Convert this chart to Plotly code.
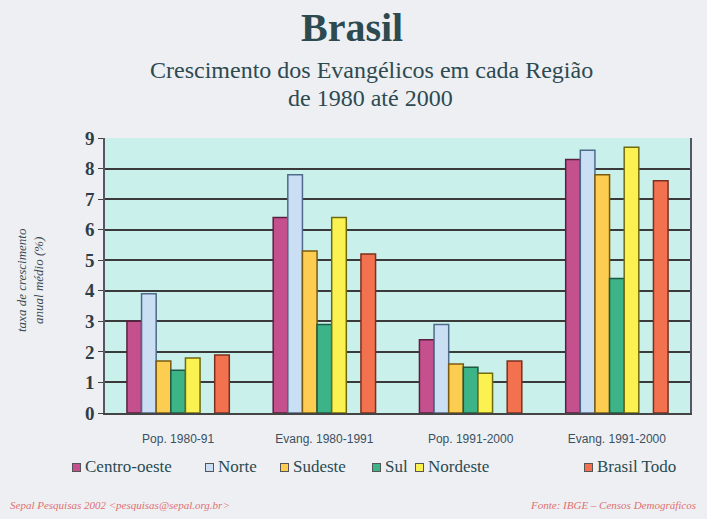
import plotly.graph_objects as go

categories = ["Pop. 1980-91", "Evang. 1980-1991", "Pop. 1991-2000", "Evang. 1991-2000"]
series_names = ["Centro-oeste", "Norte", "Sudeste", "Sul", "Nordeste", "Brasil Todo"]
centro_oeste = [3.0, 6.4, 2.4, 8.3]
norte = [3.9, 7.8, 2.9, 8.6]
sudeste = [1.7, 5.3, 1.6, 7.8]
sul = [1.4, 2.9, 1.5, 4.4]
nordeste = [1.8, 6.4, 1.3, 8.7]
brasil_todo = [1.9, 5.2, 1.7, 7.6]
y_ticks = [0, 1, 2, 3, 4, 5, 6, 7, 8, 9]

colors = ["#C4508E", "#CADFF4", "#FCCD50", "#3DB487", "#FBF150", "#F2714F"]
edge = ["#5A2040", "#4F6A8A", "#7A5A10", "#1D5A40", "#6F6A10", "#7A3020"]
values = [centro_oeste, norte, sudeste, sul, nordeste, brasil_todo]
legend_x_px = [72, 205, 280, 372, 415, 584]

W, H = 707, 519
L, R, T, B = 105, 17, 138, 106
PW, PH = W - L - R, H - T - B

def px_x(x):
    return (x - L) / PW

def px_y(y):
    return (H - B - y) / PH

fig = go.Figure()
for i, (name, vals) in enumerate(zip(series_names, values)):
    if i == 5:
        # empty slot that separates "Brasil Todo" from the regions
        fig.add_trace(go.Bar(x=categories, y=[None] * 4, name="",
                             marker=dict(color="rgba(0,0,0,0)", line=dict(width=0)),
                             hoverinfo="skip"))
    fig.add_trace(go.Bar(x=categories, y=vals, name=name,
                         marker=dict(color=colors[i], line=dict(color=edge[i], width=1.5))))

fig.update_layout(
    width=W, height=H,
    barmode="group", bargap=0.3, bargroupgap=0.0,
    paper_bgcolor="#EEEFF3", plot_bgcolor="#C9F0EB",
    margin=dict(l=L, r=R, t=T, b=B),
    showlegend=False,
    font=dict(family="Liberation Serif"),
)
fig.update_xaxes(showgrid=False, showline=True, linecolor="#444", linewidth=1.5,
                 tickfont=dict(family="Liberation Sans", size=12, color="#3A5060"),
                 ticks="outside", ticklen=14, tickcolor="rgba(0,0,0,0)", mirror=False)
fig.update_yaxes(range=[0, 9], tickvals=y_ticks, showgrid=True, gridcolor="#3A3A3A",
                 gridwidth=1.5, showline=True, linecolor="#556", linewidth=1.5, mirror=True,
                 ticks="outside", ticklen=5, tickcolor="#444",
                 tickfont=dict(family="Liberation Serif", size=19, color="#2E3E48", weight="bold"),
                 zeroline=False)

# legend drawn as boxes and text items
for name, col, lx in zip(series_names, colors, legend_x_px):
    fig.add_annotation(text="", xref="paper", yref="paper", x=px_x(lx), xanchor="left",
                       y=px_y(467), yanchor="middle", showarrow=False,
                       width=7, height=7, bgcolor=col, bordercolor="#555", borderwidth=1,
                       borderpad=0)
    fig.add_annotation(text=name,
                       xref="paper", yref="paper", x=px_x(lx + 11), xanchor="left",
                       y=px_y(466), yanchor="middle", showarrow=False,
                       font=dict(family="Liberation Serif", size=17, color="#2A4A50"))

fig.add_annotation(text="<b>Brasil</b>", xref="paper", yref="paper", x=px_x(352), xanchor="center",
                   y=px_y(27), yanchor="middle", showarrow=False,
                   font=dict(family="Liberation Serif", size=40, color="#2D4A50"))
fig.add_annotation(text="Crescimento dos Evangélicos em cada Região",
                   xref="paper", yref="paper", x=px_x(371), xanchor="center",
                   y=px_y(70), yanchor="middle", showarrow=False,
                   font=dict(family="Liberation Serif", size=24, color="#2D4A50"))
fig.add_annotation(text="de 1980 até 2000",
                   xref="paper", yref="paper", x=px_x(370), xanchor="center",
                   y=px_y(98), yanchor="middle", showarrow=False,
                   font=dict(family="Liberation Serif", size=24, color="#2D4A50"))
fig.add_annotation(text="<i>taxa de crescimento<br>anual médio (%)</i>", textangle=-90,
                   xref="paper", yref="paper", x=px_x(30), xanchor="center",
                   y=px_y(280), yanchor="middle", showarrow=False,
                   font=dict(family="Liberation Serif", size=13, color="#3A4A50"))
fig.add_annotation(text="<i>Sepal Pesquisas 2002 &lt;pesquisas@sepal.org.br&gt;</i>",
                   xref="paper", yref="paper", x=px_x(8), xanchor="left",
                   y=px_y(505), yanchor="middle", showarrow=False,
                   font=dict(family="Liberation Serif", size=11, color="#E07070"))
fig.add_annotation(text="<i>Fonte: IBGE – Censos Demográficos</i>",
                   xref="paper", yref="paper", x=px_x(698), xanchor="right",
                   y=px_y(505), yanchor="middle", showarrow=False,
                   font=dict(family="Liberation Serif", size=11, color="#E07070"))

fig.write_html("out.html", config={"displayModeBar": False},
               post_script="document.body.style.margin='0';")
